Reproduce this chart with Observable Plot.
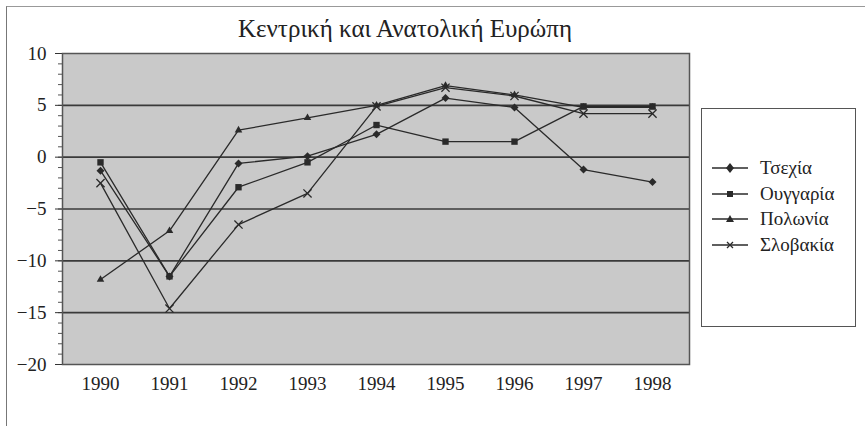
<!DOCTYPE html>
<html>
<head>
<meta charset="utf-8">
<script src="https://cdn.jsdelivr.net/npm/d3@7"></script>
<script src="https://cdn.jsdelivr.net/npm/@observablehq/plot@0.6"></script>
<style>
  html, body { margin: 0; padding: 0; background: #fff; }
  #wrap { position: relative; width: 865px; height: 426px; overflow: hidden; font-family: "Liberation Serif", "Times New Roman", Times, "Noto Serif", "DejaVu Serif", Tinos, serif; }
  #border { position: absolute; left: 6px; top: 6px; width: 900px; height: 500px; border-left: 1.5px solid #777; border-top: 1.5px solid #999; }
  #title { position: absolute; left: 0; top: 0; width: 810px; height: 44px; text-align: center; font-size: 25px; line-height: 25px; padding-top: 16px; box-sizing: border-box; color: #222; }
  #chart { position: absolute; left: 0; top: 44px; }
  #legend { position: absolute; left: 701px; top: 108px; width: 155px; height: 219px; border: 1.3px solid #555; box-sizing: border-box; background: #fff; }
  .item { position: absolute; left: 10px; height: 20px; display: flex; align-items: center; font-size: 19px; color: #222; }
  .item svg { margin-right: 12px; }
</style>
</head>
<body>
<div id="wrap">
  <div id="border"></div>
  <div id="title">Κεντρική και Ανατολική Ευρώπη</div>
  <div id="chart"></div>
  <div id="legend"></div>
</div>
<script>
const years = ["1990","1991","1992","1993","1994","1995","1996","1997","1998"];
const seriesNames = ["Τσεχία","Ουγγαρία","Πολωνία","Σλοβακία"];
const czech    = [-1.3, -11.5, -0.6, 0.1, 2.2, 5.7, 4.8, -1.2, -2.4];
const hungary  = [-0.5, -11.5, -2.9, -0.5, 3.1, 1.5, 1.5, 4.9, 4.9];
const poland   = [-11.8, -7.1, 2.6, 3.8, 5.0, 6.9, 6.0, 4.8, 4.8];
const slovakia = [-2.5, -14.6, -6.5, -3.5, 4.9, 6.7, 5.9, 4.2, 4.2];
const yMajorTicks = [-20, -15, -10, -5, 0, 5, 10];
const yMinorTicks = d3.range(-20, 11, 1);
const gridValues = [-15, -10, -5, 0, 5];

const symbols = ["diamond2", "square", "triangle2", "times"];
const allValues = [czech, hungary, poland, slovakia];
const rows = [];
allValues.forEach((vals, i) => vals.forEach((v, j) => rows.push({series: seriesNames[i], year: years[j], value: v, sym: symbols[i]})));

const ink = "#2a2a2a";
const serif = "'Liberation Serif', 'Times New Roman', Times, 'Noto Serif', 'DejaVu Serif', Tinos, serif";
const chart = Plot.plot({
  width: 865,
  height: 382,
  marginLeft: 62,
  marginRight: 176,
  marginTop: 9,
  marginBottom: 62,
  style: {fontFamily: serif, fontSize: "18px", color: "#222", background: "transparent"},
  x: {type: "point", domain: years, padding: 0.5, label: null},
  y: {domain: [-20, 10], label: null},
  marks: [
    Plot.frame({fill: "#c9c9c9", stroke: "none"}),
    Plot.ruleY(gridValues, {stroke: "#3a3a3a", strokeWidth: 1.6}),
    Plot.axisY(yMinorTicks, {tickSize: 4, text: null, stroke: "#555", strokeWidth: 1}),
    Plot.axisY(yMajorTicks, {tickSize: 7, tickPadding: 9, stroke: "#333", fontSize: 19, fontFamily: serif}),
    Plot.axisX(years, {tickSize: 0, tickPadding: 12, fontSize: 19, fontFamily: serif}),
    Plot.frame({stroke: "#555", strokeWidth: 1.5}),
    Plot.line(rows, {x: "year", y: "value", z: "series", stroke: ink, strokeWidth: 1.3}),
    Plot.dot(rows.filter(d => d.sym !== "times"), {x: "year", y: "value", symbol: "sym", fill: ink, stroke: "none", r: 3.6}),
    Plot.dot(rows.filter(d => d.sym === "times"), {x: "year", y: "value", symbol: "sym", stroke: ink, strokeWidth: 1.3, r: 3.8})
  ],
  symbol: {domain: symbols, range: symbols}
});
document.getElementById("chart").append(chart);

// Legend
const legend = document.getElementById("legend");
const legendTops = [49, 75, 100, 126];
const symbolPaths = {
  "diamond2": "M18,5 L22,10 L18,15 L14,10 Z",
  "square": "M15,7 L21,7 L21,13 L15,13 Z",
  "triangle2": "M18,6 L22,13 L14,13 Z",
  "times": "M15,7 L21,13 M21,7 L15,13"
};
seriesNames.forEach((name, i) => {
  const item = document.createElement("div");
  item.className = "item";
  item.style.top = legendTops[i] + "px";
  const sym = symbols[i];
  const filled = sym !== "times";
  item.innerHTML = `<svg width="36" height="20"><line x1="0" y1="10" x2="36" y2="10" stroke="${ink}" stroke-width="1.3"/><path d="${symbolPaths[sym]}" fill="${filled ? ink : "none"}" stroke="${ink}" stroke-width="${filled ? 0 : 1.3}"/></svg><span>${name}</span>`;
  legend.append(item);
});
</script>
</body>
</html>
